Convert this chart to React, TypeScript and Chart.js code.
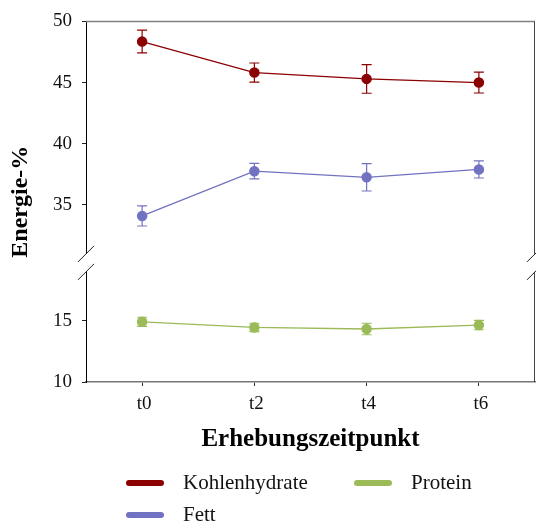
import React, { useEffect, useRef } from 'react';
import { Chart, registerables } from 'chart.js';

Chart.register(...registerables);

// Survey time points
const timepoints = ['t0', 't2', 't4', 't6'];

// Mean share of energy intake (%) per macronutrient and its error
const kohlenhydrate = [48.35, 45.82, 45.3, 45.0];
const kohlenhydrateErr = [0.93, 0.78, 1.17, 0.85];
const fett = [34.1, 37.76, 37.26, 37.9];
const fettErr = [0.82, 0.63, 1.12, 0.7];
const protein = [14.92, 14.46, 14.33, 14.65];
const proteinErr = [0.37, 0.34, 0.47, 0.38];

// Broken y axis: upper and lower segments
const upperRange = [31, 50];
const lowerRange = [10, 19];
const upperTicks = [35, 40, 45, 50];
const lowerTicks = [10, 15];

const SERIF = '"Liberation Serif", "Times New Roman", serif';
const TICK_FONT = { family: SERIF, size: 19 };
const GAP_WEIGHT = 1.47;
const AXIS_WIDTH = 86;

const setAxisWidth = (s: any) => {
  s.width = AXIS_WIDTH;
};

const decorPlugin = {
  id: 'decor',
  beforeDatasetsDraw(chart: any) {
    const ctx = chart.ctx;
    const xs = chart.scales.x;
    chart.data.datasets.forEach((ds: any, i: number) => {
      const meta = chart.getDatasetMeta(i);
      if (meta.hidden) return;
      const ys = chart.scales[ds.yAxisID];
      ctx.save();
      ctx.strokeStyle = ds.borderColor;
      ctx.lineWidth = 1.2;
      ds.data.forEach((v: number, j: number) => {
        const e = ds.errors[j];
        const px = xs.getPixelForValue(j);
        const top = ys.getPixelForValue(v + e);
        const bot = ys.getPixelForValue(v - e);
        ctx.beginPath();
        ctx.moveTo(px, top);
        ctx.lineTo(px, bot);
        ctx.moveTo(px - 5, top);
        ctx.lineTo(px + 5, top);
        ctx.moveTo(px - 5, bot);
        ctx.lineTo(px + 5, bot);
        ctx.stroke();
      });
      ctx.restore();
    });
  },
  afterDraw(chart: any) {
    const ctx = chart.ctx;
    const { left, right, top, bottom } = chart.chartArea;
    const up = chart.scales.yUpper;
    const lo = chart.scales.yLower;

    ctx.save();
    // top frame line
    ctx.strokeStyle = '#808080';
    ctx.lineWidth = 1.5;
    ctx.beginPath();
    ctx.moveTo(left, top);
    ctx.lineTo(right, top);
    ctx.stroke();

    // right frame line, interrupted at the axis break
    ctx.strokeStyle = '#444';
    ctx.lineWidth = 1;
    ctx.beginPath();
    ctx.moveTo(right - 0.5, top);
    ctx.lineTo(right - 0.5, up.bottom);
    ctx.moveTo(right - 0.5, lo.top);
    ctx.lineTo(right - 0.5, bottom);
    ctx.stroke();

    // break marks on both sides
    ctx.strokeStyle = '#222';
    ctx.lineWidth = 1;
    [left, right].forEach((x) => {
      [up.bottom, lo.top].forEach((y) => {
        ctx.beginPath();
        ctx.moveTo(x - 8, y + 8);
        ctx.lineTo(x + 8, y - 8);
        ctx.stroke();
      });
    });

    // y axis title spanning both segments
    ctx.translate(21, (top + bottom) / 2);
    ctx.rotate(-Math.PI / 2);
    ctx.font = `bold 24px ${SERIF}`;
    ctx.fillStyle = '#000';
    ctx.textAlign = 'center';
    ctx.textBaseline = 'middle';
    ctx.fillText('Energie-%', 0, 0);
    ctx.restore();

    // legend: two rows, filled column by column
    const colX = [126, 354];
    const rowY = [483, 515];
    ctx.save();
    ctx.font = `21px ${SERIF}`;
    ctx.textBaseline = 'middle';
    ctx.textAlign = 'left';
    chart.data.datasets.forEach((ds: any, i: number) => {
      const x = colX[Math.floor(i / 2)];
      const y = rowY[i % 2];
      ctx.strokeStyle = ds.borderColor;
      ctx.lineWidth = 6;
      ctx.lineCap = 'round';
      ctx.beginPath();
      ctx.moveTo(x + 3, y);
      ctx.lineTo(x + 35, y);
      ctx.stroke();
      ctx.fillStyle = '#111';
      ctx.fillText(ds.label, x + 57, y);
    });
    ctx.restore();
  },
};

const series = (label: string, data: number[], errors: number[], color: string, axis: string) => ({
  label,
  data,
  errors,
  yAxisID: axis,
  borderColor: color,
  backgroundColor: color,
  pointBackgroundColor: color,
  pointBorderColor: color,
  borderWidth: 1.3,
  pointRadius: 4.6,
  pointHoverRadius: 4.6,
  tension: 0,
});

export default function App() {
  const canvasRef = useRef<HTMLCanvasElement | null>(null);

  useEffect(() => {
    const canvas = canvasRef.current;
    if (!canvas) return;
    const chart = new Chart(canvas, {
      type: 'line',
      data: {
        labels: timepoints,
        datasets: [
          series('Kohlenhydrate', kohlenhydrate, kohlenhydrateErr, '#8B0000', 'yUpper'),
          series('Fett', fett, fettErr, '#7272C2', 'yUpper'),
          series('Protein', protein, proteinErr, '#9BBB59', 'yLower'),
        ] as any,
      },
      options: {
        responsive: false,
        devicePixelRatio: 1,
        animation: false,
        layout: { autoPadding: false, padding: { top: 20, right: 1, bottom: 0, left: 0 } },
        plugins: {
          legend: { display: false },
          tooltip: { enabled: false },
        },
        scales: {
          x: {
            type: 'category',
            offset: true,
            grid: { drawOnChartArea: false, drawTicks: true, tickLength: 4, color: '#333', lineWidth: 1 },
            border: { display: true, color: '#777', width: 1.5 },
            ticks: { font: TICK_FONT, color: '#111', padding: 7, labelOffset: 2 },
            title: {
              display: true,
              text: 'Erhebungszeitpunkt',
              color: '#000',
              font: { family: SERIF, size: 25, weight: 'bold' },
              padding: { top: 0, bottom: 70 },
            },
            afterFit: (s: any) => {
              s.height = 143;
              s.paddingLeft = 0;
              s.paddingRight = 0;
            },
          },
          yUpper: {
            type: 'linear',
            position: 'left',
            stack: 'energie',
            stackWeight: upperRange[1] - upperRange[0],
            weight: 3,
            min: upperRange[0],
            max: upperRange[1],
            afterBuildTicks: (s: any) => {
              s.ticks = upperTicks.map((value) => ({ value }));
            },
            grid: { drawOnChartArea: false, tickLength: 4, color: '#222' },
            border: { display: true, color: '#000', width: 1 },
            ticks: { font: TICK_FONT, color: '#111', padding: 10 },
            afterFit: setAxisWidth,
          },
          yGap: {
            type: 'linear',
            position: 'left',
            stack: 'energie',
            stackWeight: GAP_WEIGHT,
            weight: 2,
            display: false,
            afterFit: setAxisWidth,
          },
          yLower: {
            type: 'linear',
            position: 'left',
            stack: 'energie',
            stackWeight: lowerRange[1] - lowerRange[0],
            weight: 1,
            min: lowerRange[0],
            max: lowerRange[1],
            afterBuildTicks: (s: any) => {
              s.ticks = lowerTicks.map((value) => ({ value }));
            },
            grid: { drawOnChartArea: false, tickLength: 4, color: '#222' },
            border: { display: true, color: '#000', width: 1 },
            ticks: { font: TICK_FONT, color: '#111', padding: 10 },
            afterFit: setAxisWidth,
          },
        } as any,
      },
      plugins: [decorPlugin],
    });
    return () => chart.destroy();
  }, []);

  return (
    <div style={{ position: 'absolute', left: 0, top: 0, width: 536, height: 525, background: '#fff' }}>
      <canvas ref={canvasRef} width={536} height={525} style={{ display: 'block' }} />
    </div>
  );
}
